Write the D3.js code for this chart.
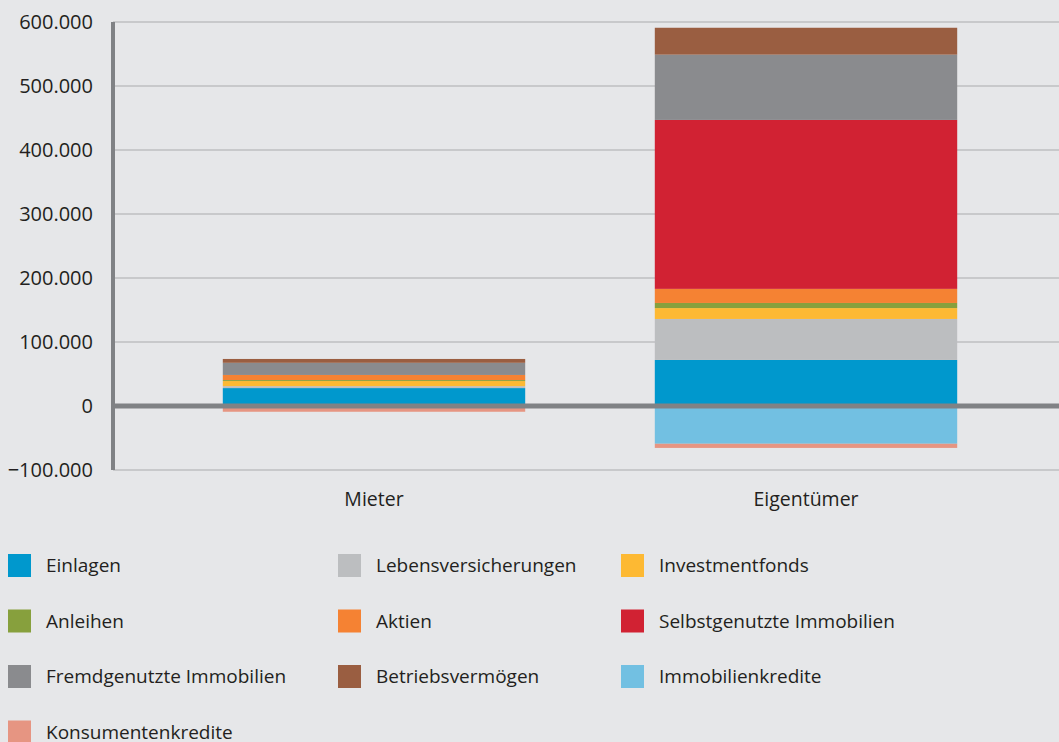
<!DOCTYPE html>
<html>
<head>
<meta charset="utf-8">
<script src="https://cdn.jsdelivr.net/npm/d3@7"></script>
<style>
  body { margin: 0; background: #e6e7e9; }
  svg { display: block; font-family: "Open Sans", sans-serif; }
</style>
</head>
<body>
<div></div>
<script>
const width = 1059;
const height = 742;

// data (values in euro)
const categories = ["Mieter", "Eigentümer"];
const seriesNames = [
  "Einlagen",
  "Lebensversicherungen",
  "Investmentfonds",
  "Anleihen",
  "Aktien",
  "Selbstgenutzte Immobilien",
  "Fremdgenutzte Immobilien",
  "Betriebsvermögen",
  "Immobilienkredite",
  "Konsumentenkredite",
];
const mieterValues = [28000, 3000, 8000, 1500, 8000, 0, 19000, 6000, 0, -9000];
const eigentuemerValues = [72000, 64000, 17000, 8000, 22000, 264000, 102000, 42000, -59000, -6500];
const colours = [
  "#0098cd",
  "#bcbec0",
  "#fdb933",
  "#87a03d",
  "#f58233",
  "#d12233",
  "#8a8b8e",
  "#9a5e41",
  "#72c0e2",
  "#e69582",
];
const yTicks = [-100000, 0, 100000, 200000, 300000, 400000, 500000, 600000];

const svg = d3
  .select("div")
  .append("svg")
  .attr("width", width)
  .attr("height", height);

svg.append("rect").attr("width", width).attr("height", height).attr("fill", "#e6e7e9");

const rows = categories.map((c, i) => {
  const row = { category: c };
  const vals = i === 0 ? mieterValues : eigentuemerValues;
  seriesNames.forEach((s, j) => (row[s] = vals[j]));
  return row;
});

const stacked = d3
  .stack()
  .keys(seriesNames)
  .offset(d3.stackOffsetDiverging)(rows);

const axisX = 113;

const y = d3.scaleLinear().domain([-100000, 600000]).range([470, 22]);

const x = d3
  .scaleBand()
  .domain(categories)
  .range([158, 1022])
  .paddingInner(0.3)
  .paddingOuter(0.15);

const colour = d3.scaleOrdinal().domain(seriesNames).range(colours);

// gridlines
svg
  .append("g")
  .selectAll("line")
  .data(yTicks.filter((d) => d !== 0))
  .enter()
  .append("line")
  .attr("x1", axisX)
  .attr("x2", width)
  .attr("y1", (d) => y(d))
  .attr("y2", (d) => y(d))
  .attr("stroke", "#c8c9cb")
  .attr("stroke-width", 2);

// bars
svg
  .append("g")
  .selectAll("g")
  .data(stacked)
  .enter()
  .append("g")
  .attr("fill", (d) => colour(d.key))
  .selectAll("rect")
  .data((d) => d)
  .enter()
  .append("rect")
  .attr("x", (d) => x(d.data.category))
  .attr("width", x.bandwidth())
  .attr("y", (d) => y(Math.max(d[0], d[1])))
  .attr("height", (d) => Math.abs(y(d[0]) - y(d[1])));

// y axis
const yAxis = d3
  .axisLeft(y)
  .tickValues(yTicks)
  .tickSize(0)
  .tickPadding(20)
  .tickFormat((d) => d3.format(",")(d).replace(/,/g, "."));

const gy = svg
  .append("g")
  .attr("transform", "translate(" + axisX + ",0)")
  .call(yAxis);
gy.select(".domain").remove();
gy.selectAll("text")
  .attr("font-size", 20)
  .attr("fill", "#231f20")
  .attr("font-family", "Open Sans, sans-serif");

svg
  .append("line")
  .attr("x1", axisX)
  .attr("x2", axisX)
  .attr("y1", y(600000))
  .attr("y2", y(-100000))
  .attr("stroke", "#808285")
  .attr("stroke-width", 4);

// zero line
svg
  .append("line")
  .attr("x1", axisX)
  .attr("x2", width)
  .attr("y1", y(0))
  .attr("y2", y(0))
  .attr("stroke", "#808285")
  .attr("stroke-width", 5);

// category labels
const xAxis = d3.axisBottom(x).tickSize(0).tickPadding(22);
const gx = svg
  .append("g")
  .attr("transform", "translate(0," + y(-100000) + ")")
  .call(xAxis);
gx.select(".domain").remove();
gx.selectAll("text")
  .attr("font-size", 19.5)
  .attr("fill", "#231f20")
  .attr("font-family", "Open Sans, sans-serif");

// legend, row by row in 3 columns
const legendCols = [8, 338, 621];
const legend = svg
  .append("g")
  .selectAll("g")
  .data(seriesNames)
  .enter()
  .append("g")
  .attr(
    "transform",
    (d, i) =>
      "translate(" + legendCols[i % 3] + "," + (554 + Math.floor(i / 3) * 55.5) + ")"
  );

legend
  .append("rect")
  .attr("width", 23)
  .attr("height", 23)
  .attr("fill", (d) => colour(d));

legend
  .append("text")
  .attr("x", 38)
  .attr("y", 11.5)
  .attr("dy", "0.35em")
  .attr("font-size", 19)
  .attr("fill", "#231f20")
  .text((d) => d);
</script>
</body>
</html>
